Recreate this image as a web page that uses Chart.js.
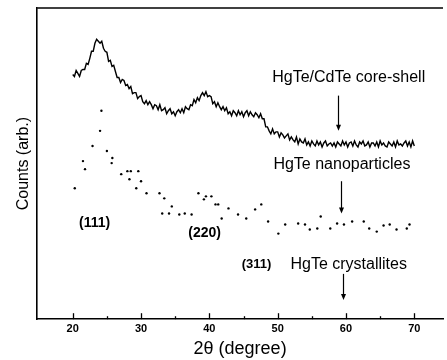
<!DOCTYPE html>
<html>
<head>
<meta charset="utf-8">
<script src="https://cdn.jsdelivr.net/npm/chart.js@4.4.1/dist/chart.umd.min.js"></script>
<style>
  html, body { margin: 0; padding: 0; background: #fff; }
  #wrap { width: 447px; height: 360px; }
</style>
</head>
<body>
<div id="wrap"><canvas id="xrd"></canvas></div>
<script>
// 2θ grid for the core-shell trace (degrees, 0.25° steps)
const shellAngles = [];
for (let i = 0; i <= 200; i++) shellAngles.push(20 + i * 0.25);

// HgTe/CdTe core-shell counts (arb.); one row per degree
const shellCounts = [
  243, 241, 247, 244,   241, 247, 248, 248,   254, 253, 259, 266,
  266, 274, 278, 276,   274, 276, 269, 266,   265, 256, 257, 251,
  252, 246, 240, 240,   235, 238, 237, 232,   233, 229, 231, 224,
  225, 225, 219, 221,   222, 216, 214, 217,   213, 216, 213, 209,
  213, 212, 208, 213,   207, 208, 210, 204,   207, 209, 204, 206,
  202, 206, 208, 205,   209, 205, 211, 209,   208, 213, 212, 218,
  215, 220, 217, 222,   225, 222, 226, 221,   222, 221, 214, 216,
  211, 215, 211, 208,   211, 207, 210, 204,   206, 202, 207, 205,
  202, 207, 203, 206,   201, 205, 207, 202,   206, 203, 201, 205,
  203, 200, 204, 199,   199, 191, 191, 187,   184, 189, 184, 186,
  186, 181, 185, 183,   180, 182, 184, 178,   181, 178, 176, 181,
  174, 179, 176, 175,   179, 173, 176, 172,   177, 174, 172, 177,
  173, 176, 171, 175,   177, 172, 174, 175,   172, 175, 171, 176,
  174, 172, 177, 173,   176, 171, 175, 176,   172, 177, 173, 171,
  176, 174, 177, 172,   173, 176, 171, 175,   175, 172, 176, 171,
  177, 173, 175, 172,   171, 176, 174, 172,   176, 171, 177, 173,
  174, 172, 175, 177,   172, 176, 171, 177,   172
];

// HgTe nanoparticles: scattered points (2θ, counts)
const nanoAngles = [
  20.3, 21.5, 21.8, 22.9, 24.0, 24.2, 25.0, 25.8, 25.7, 27.1,
  28.0, 28.5, 28.3, 29.6, 29.3, 30.0, 30.8, 32.7, 33.4, 34.5,
  33.1, 34.1, 35.6, 36.4, 37.4, 38.4, 39.2, 39.5, 40.3, 40.9,
  41.3, 41.8, 42.8, 44.2, 45.4, 46.7, 47.6, 48.6, 50.1, 51.1,
  53.0, 54.0, 54.7, 55.8, 56.3, 57.7, 58.7, 59.7, 60.9, 62.6,
  63.4, 64.5, 65.5, 66.4, 67.4, 68.9, 69.3
];
const nanoCounts = [
  130, 157, 149, 172, 187, 207, 167, 160, 155, 144,
  147, 147, 139, 147, 130, 137, 125, 125, 120, 112,
  105, 105, 104, 105, 104, 125, 119, 122, 122, 114,
  114, 100, 110, 104, 100, 109, 114, 97, 85, 94,
  95, 94, 89, 90, 102, 90, 95, 94, 97, 97,
  90, 87, 93, 94, 89, 90, 94
];

const majorTicks = [20, 30, 40, 50, 60, 70];
const minorTicks = [25, 35, 45, 55, 65];

const noteTexts = ['HgTe/CdTe core-shell', 'HgTe nanoparticles', 'HgTe crystallites'];
const peakLabels = ['(111)', '(220)', '(311)'];

const frame = {
  id: 'frame',
  afterDraw(chart) {
    const { ctx, chartArea: a, scales: { x, y } } = chart;
    ctx.save();
    ctx.strokeStyle = '#000';
    ctx.lineWidth = 1.6;
    // top border
    ctx.beginPath();
    ctx.moveTo(a.left, a.top);
    ctx.lineTo(a.right, a.top);
    ctx.stroke();
    // inward ticks
    ctx.lineWidth = 1.3;
    majorTicks.forEach(v => {
      const px = Math.round(x.getPixelForValue(v)) + 0.5;
      ctx.beginPath(); ctx.moveTo(px, a.bottom); ctx.lineTo(px, a.bottom - 6); ctx.stroke();
    });
    minorTicks.forEach(v => {
      const px = Math.round(x.getPixelForValue(v)) + 0.5;
      ctx.beginPath(); ctx.moveTo(px, a.bottom); ctx.lineTo(px, a.bottom - 3); ctx.stroke();
    });

    ctx.fillStyle = '#000';
    ctx.textAlign = 'center';
    ctx.textBaseline = 'middle';
    ctx.font = '16px "Liberation Sans", Arial, sans-serif';
    ctx.fillText(noteTexts[0], x.getPixelForValue(60.4), y.getPixelForValue(240));
    ctx.fillText(noteTexts[1], x.getPixelForValue(59.4), y.getPixelForValue(154));
    ctx.fillText(noteTexts[2], x.getPixelForValue(60.4), y.getPixelForValue(54));
    ctx.font = 'bold 14px "Liberation Sans", Arial, sans-serif';
    ctx.fillText(peakLabels[0], x.getPixelForValue(23.2), y.getPixelForValue(95));
    ctx.fillText(peakLabels[1], x.getPixelForValue(39.3), y.getPixelForValue(85));
    ctx.font = 'bold 13px "Liberation Sans", Arial, sans-serif';
    ctx.fillText(peakLabels[2], x.getPixelForValue(46.9), y.getPixelForValue(54));

    const arrow = (deg, from, to) => {
      const px = Math.round(x.getPixelForValue(deg)) + 0.5;
      const y0 = y.getPixelForValue(from), y1 = y.getPixelForValue(to);
      ctx.lineWidth = 1.2;
      ctx.beginPath(); ctx.moveTo(px, y0); ctx.lineTo(px, y1 - 5); ctx.stroke();
      ctx.beginPath();
      ctx.moveTo(px - 2.5, y1 - 6); ctx.lineTo(px + 2.5, y1 - 6); ctx.lineTo(px, y1);
      ctx.closePath(); ctx.fill();
    };
    arrow(58.9, 222, 187);
    arrow(59.2, 137, 105);
    arrow(59.5, 45, 19);
    ctx.restore();
  }
};

new Chart(document.getElementById('xrd'), {
  type: 'scatter',
  data: {
    datasets: [
      {
        label: 'HgTe/CdTe core-shell',
        data: shellAngles.map((a, i) => ({ x: a, y: shellCounts[i] })),
        showLine: true,
        borderColor: '#000',
        borderWidth: 1.4,
        pointRadius: 0,
        tension: 0
      },
      {
        label: 'HgTe nanoparticles',
        data: nanoAngles.map((a, i) => ({ x: a, y: nanoCounts[i] })),
        showLine: false,
        backgroundColor: '#000',
        borderColor: '#000',
        pointRadius: 1.2,
        pointBorderWidth: 0
      }
    ]
  },
  options: {
    responsive: true,
    maintainAspectRatio: false,
    animation: false,
    layout: { padding: { left: 14, top: 8, right: 0, bottom: 0 } },
    plugins: { legend: { display: false }, tooltip: { enabled: false } },
    scales: {
      x: {
        type: 'linear',
        min: 14.8,
        max: 74.2,
        afterBuildTicks: s => { s.ticks = majorTicks.map(v => ({ value: v })); },
        grid: { display: false, drawTicks: false },
        border: { display: true, color: '#000', width: 1.6 },
        ticks: {
          padding: 3,
          color: '#000',
          font: { family: '"Liberation Sans", Arial, sans-serif', size: 11, weight: 'bold' }
        },
        title: {
          display: true,
          text: '2θ (degree)',
          color: '#000',
          padding: { top: 0, bottom: 0 },
          font: { family: '"Liberation Sans", Arial, sans-serif', size: 18 }
        }
      },
      y: {
        min: 0,
        max: 309,
        grid: { display: false, drawTicks: false },
        border: { display: true, color: '#000', width: 1.6 },
        ticks: { display: false },
        title: {
          display: true,
          text: 'Counts (arb.)',
          color: '#000',
          padding: { top: 0, bottom: 4 },
          font: { family: '"Liberation Sans", Arial, sans-serif', size: 16 }
        }
      }
    }
  },
  plugins: [frame]
});
</script>
</body>
</html>
